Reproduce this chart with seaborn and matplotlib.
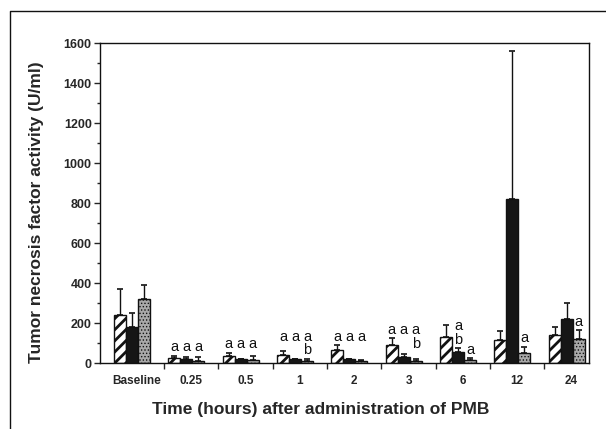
import numpy as np
import pandas as pd
import seaborn as sns
import matplotlib
matplotlib.use("Agg")
import matplotlib.pyplot as plt
from matplotlib.lines import Line2D
from matplotlib.ticker import MultipleLocator

# time points
times = ['Baseline', '0.25', '0.5', '1', '2', '3', '6', '12', '24']
groups = ['Group 1', 'Group 2', 'Group 3']

# TNF activity (U/ml), mean and upper error
mean_g1 = [240, 23, 37, 40, 65, 90, 128, 115, 140]
mean_g2 = [182, 20, 18, 18, 18, 32, 57, 822, 220]
mean_g3 = [322, 12, 14, 12, 12, 12, 15, 52, 120]
err_g1 = [130, 14, 15, 20, 23, 33, 62, 45, 42]
err_g2 = [66, 12, 4, 4, 3, 13, 16, 740, 82]
err_g3 = [70, 18, 20, 10, 5, 8, 8, 30, 45]

# significance letters above each bar
sig_g1 = ['', 'a', 'a', 'a', 'a', 'a', '', '', '']
sig_g2 = ['', 'a', 'a', 'a', 'a', 'a', 'a\nb', '', '']
sig_g3 = ['', 'a', 'a', 'a\nb', 'a', 'a\nb', 'a', 'a', 'a']
sig_aligned = [True, True, True, True, True, True, False, True, True]

means = [mean_g1, mean_g2, mean_g3]
errs = [err_g1, err_g2, err_g3]
sigs = [sig_g1, sig_g2, sig_g3]

rows = []
for g, m in zip(groups, means):
    for t, v in zip(times, m):
        rows.append({'time': t, 'group': g, 'tnf': v})
df = pd.DataFrame(rows)

sns.set_style("ticks")
plt.rcParams['font.family'] = ['Liberation Sans', 'DejaVu Sans']
plt.rcParams['hatch.linewidth'] = 2.0

fig = plt.figure(figsize=(6.06, 4.29), dpi=100)
ax = fig.add_axes([100/606, 1-363/429, 489/606, 320/429])

sns.barplot(data=df, x='time', y='tnf', hue='group', order=times, hue_order=groups,
            palette=['white', '#161616', '#a9a9a9'], width=0.66, errorbar=None,
            legend=False, ax=ax, zorder=2)

bars = list(ax.containers)
hatches = ['///', None, '.....']
bar_x = []
for k, cont in enumerate(bars):
    xs = []
    for p in cont.patches:
        p.set_edgecolor('#111111')
        p.set_linewidth(1.0)
        if hatches[k]:
            p.set_hatch(hatches[k])
            if k == 2 and hasattr(p, 'set_hatch_linewidth'):
                p.set_hatch_linewidth(0.6)
        xs.append(p.get_x() + p.get_width()/2)
    bar_x.append(xs)
    ax.errorbar(xs, means[k], yerr=[np.zeros(len(xs)), errs[k]], fmt='none',
                ecolor='#111111', elinewidth=1.0, capsize=2.5, capthick=1.2, zorder=3)

# letters
pad = 22
line = 68
for gi in range(len(times)):
    labs = [sigs[k][gi] for k in range(3)]
    tops = [means[k][gi] + errs[k][gi] for k in range(3)]
    need = [tops[k] + pad + (labs[k].count('\n'))*line for k in range(3) if labs[k]]
    if not need:
        continue
    row = max(need)
    for k in range(3):
        if not labs[k]:
            continue
        r = row if sig_aligned[gi] else tops[k] + pad + labs[k].count('\n')*line
        for j, ch in enumerate(labs[k].split('\n')):
            ax.text(bar_x[k][gi], r - j*line, ch, ha='center', va='baseline',
                    fontsize=10.5, color='#111111')

ax.set_xlim(-0.59, 8.41)
ax.set_ylim(0, 1600)
ax.yaxis.set_major_locator(MultipleLocator(200))
ax.yaxis.set_minor_locator(MultipleLocator(100))
ax.set_xticks(np.arange(len(times)) + 0.09)
ax.set_xticklabels(times, fontweight='bold', fontsize=8.5)
ax.set_xticks(np.arange(len(times) - 1) + 0.59, minor=True)
ax.tick_params(axis='x', which='major', length=0, pad=9)
ax.tick_params(axis='x', which='minor', length=4, width=1, direction='out')
ax.tick_params(axis='y', which='major', length=4, width=1, labelsize=9, pad=2)
ax.tick_params(axis='y', which='minor', length=2.5, width=1)
for lab in ax.get_yticklabels():
    lab.set_fontweight('bold')
for s in ax.spines.values():
    s.set_linewidth(1.0)
    s.set_color('#111111')

ax.set_xlabel('Time (hours) after administration of PMB', fontsize=12.5, fontweight='bold')
ax.set_ylabel('Tumor necrosis factor activity (U/ml)', fontsize=12.5, fontweight='bold')
ax.xaxis.set_label_coords(0.452, -0.145)
ax.yaxis.set_label_coords(-0.129, 0.47)
ax.xaxis.label.set_va('center')
ax.yaxis.label.set_va('center')

# outer frame of the figure panel
fig.add_artist(Line2D([10/606, 10/606, 1.0], [0.0, 1-11/429, 1-11/429],
                      transform=fig.transFigure, color='#111111', linewidth=1.0))

fig.savefig('out.png', dpi=100)
